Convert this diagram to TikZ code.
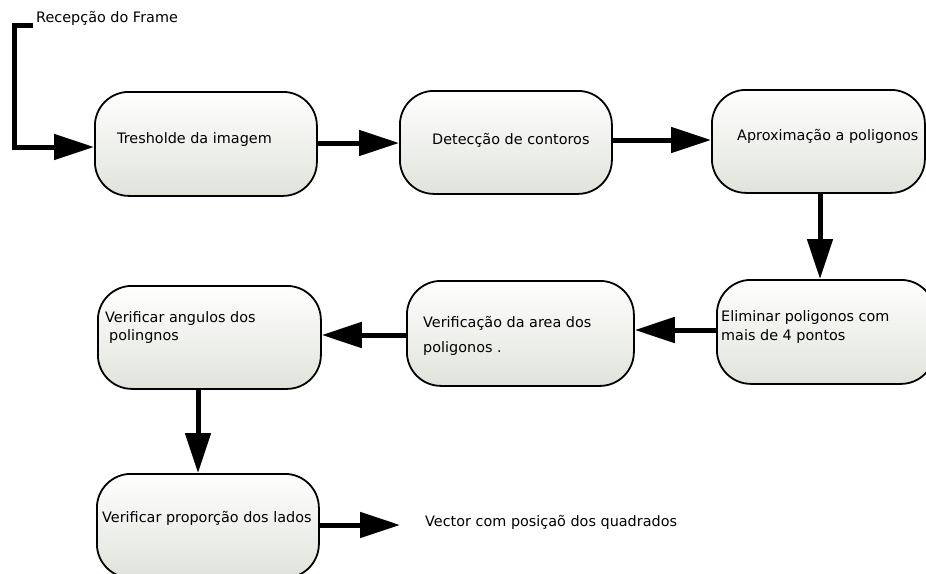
\documentclass[tikz,border=0pt]{standalone}
\usepackage{fontspec}
\setmainfont{DejaVu Sans}
\usetikzlibrary{arrows.meta}
\definecolor{boxbot}{RGB}{224,227,219}
\tikzset{
  box/.style={draw=black, line width=1.8pt, rounded corners=34pt, top color=white, bottom color=boxbot, anchor=north west, inner sep=0pt},
  txt/.style={anchor=west, inner sep=0pt, align=left, font=\fontsize{14.4}{18}\selectfont},
  arr/.style={line width=5pt, line join=miter, -{Triangle[length=40pt,width=25pt]}}
}
\begin{document}
\begin{tikzpicture}[x=1pt,y=-1pt]
\useasboundingbox (0,0) rectangle (926,573);
% boxes
\node[box, minimum width=222pt, minimum height=104pt] (b1) at (94,91) {};
\node[box, minimum width=212pt, minimum height=103pt] (b2) at (399,90) {};
\node[box, minimum width=213pt, minimum height=103pt] (b3) at (711,89) {};
\node[box, minimum width=218pt, minimum height=104pt] (b4) at (716,279) {};
\node[box, minimum width=227pt, minimum height=105pt] (b5) at (406,280) {};
\node[box, minimum width=223pt, minimum height=103pt] (b6) at (97,285) {};
\node[box, minimum width=222pt, minimum height=104pt] (b7) at (96,473) {};
% texts
\node[txt] (t1) at (117,140) {Tresholde da imagem};
\node[txt] (t2) at (432,140) {Detecção de contoros};
\node[txt] (t3) at (737,136) {Aproximação a poligonos};
\node[txt, font=\fontsize{14.4}{19}\selectfont] (t4) at (721,327.5) {Eliminar poligonos com\\mais de 4 pontos};
\node[txt, font=\fontsize{14.4}{25}\selectfont] (t5) at (423,335.5) {Verificação da area dos\\poligonos .};
\node[txt, font=\fontsize{14.4}{18}\selectfont] (t6) at (105,328) {Verificar angulos dos\\\hspace{4pt}polingnos};
\node[txt] (t7) at (102,518) {Verificar proporção dos lados};
\node[txt] (t8) at (425,522) {Vector com posiçaõ dos quadrados};
\node[txt] (t0) at (36,18) {Recepção do Frame};
% helper coordinates
\coordinate (c0) at (33,25);
\coordinate (c1) at (14,147);
\coordinate (y12) at (0,143);
\coordinate (y23) at (0,140);
\coordinate (x34) at (820,0);
\coordinate (y45) at (0,330);
\coordinate (y56) at (0,335);
\coordinate (x67) at (198,0);
\coordinate (y7) at (0,525);
\coordinate (out) at (400,525);
% connectors
\draw[arr] (c0) -| (c1) -- (c1 -| b1.west);
\draw[arr] (b1.east |- y12) -- (b2.west |- y12);
\draw[arr] (b2.east |- y23) -- (b3.west |- y23);
\draw[arr] (b3.south -| x34) -- (b4.north -| x34);
\draw[arr] (b4.west |- y45) -- (b5.east |- y45);
\draw[arr] (b5.west |- y56) -- (b6.east |- y56);
\draw[arr] (b6.south -| x67) -- (b7.north -| x67);
\draw[arr] (b7.east |- y7) -- (out);
\end{tikzpicture}
\end{document}
